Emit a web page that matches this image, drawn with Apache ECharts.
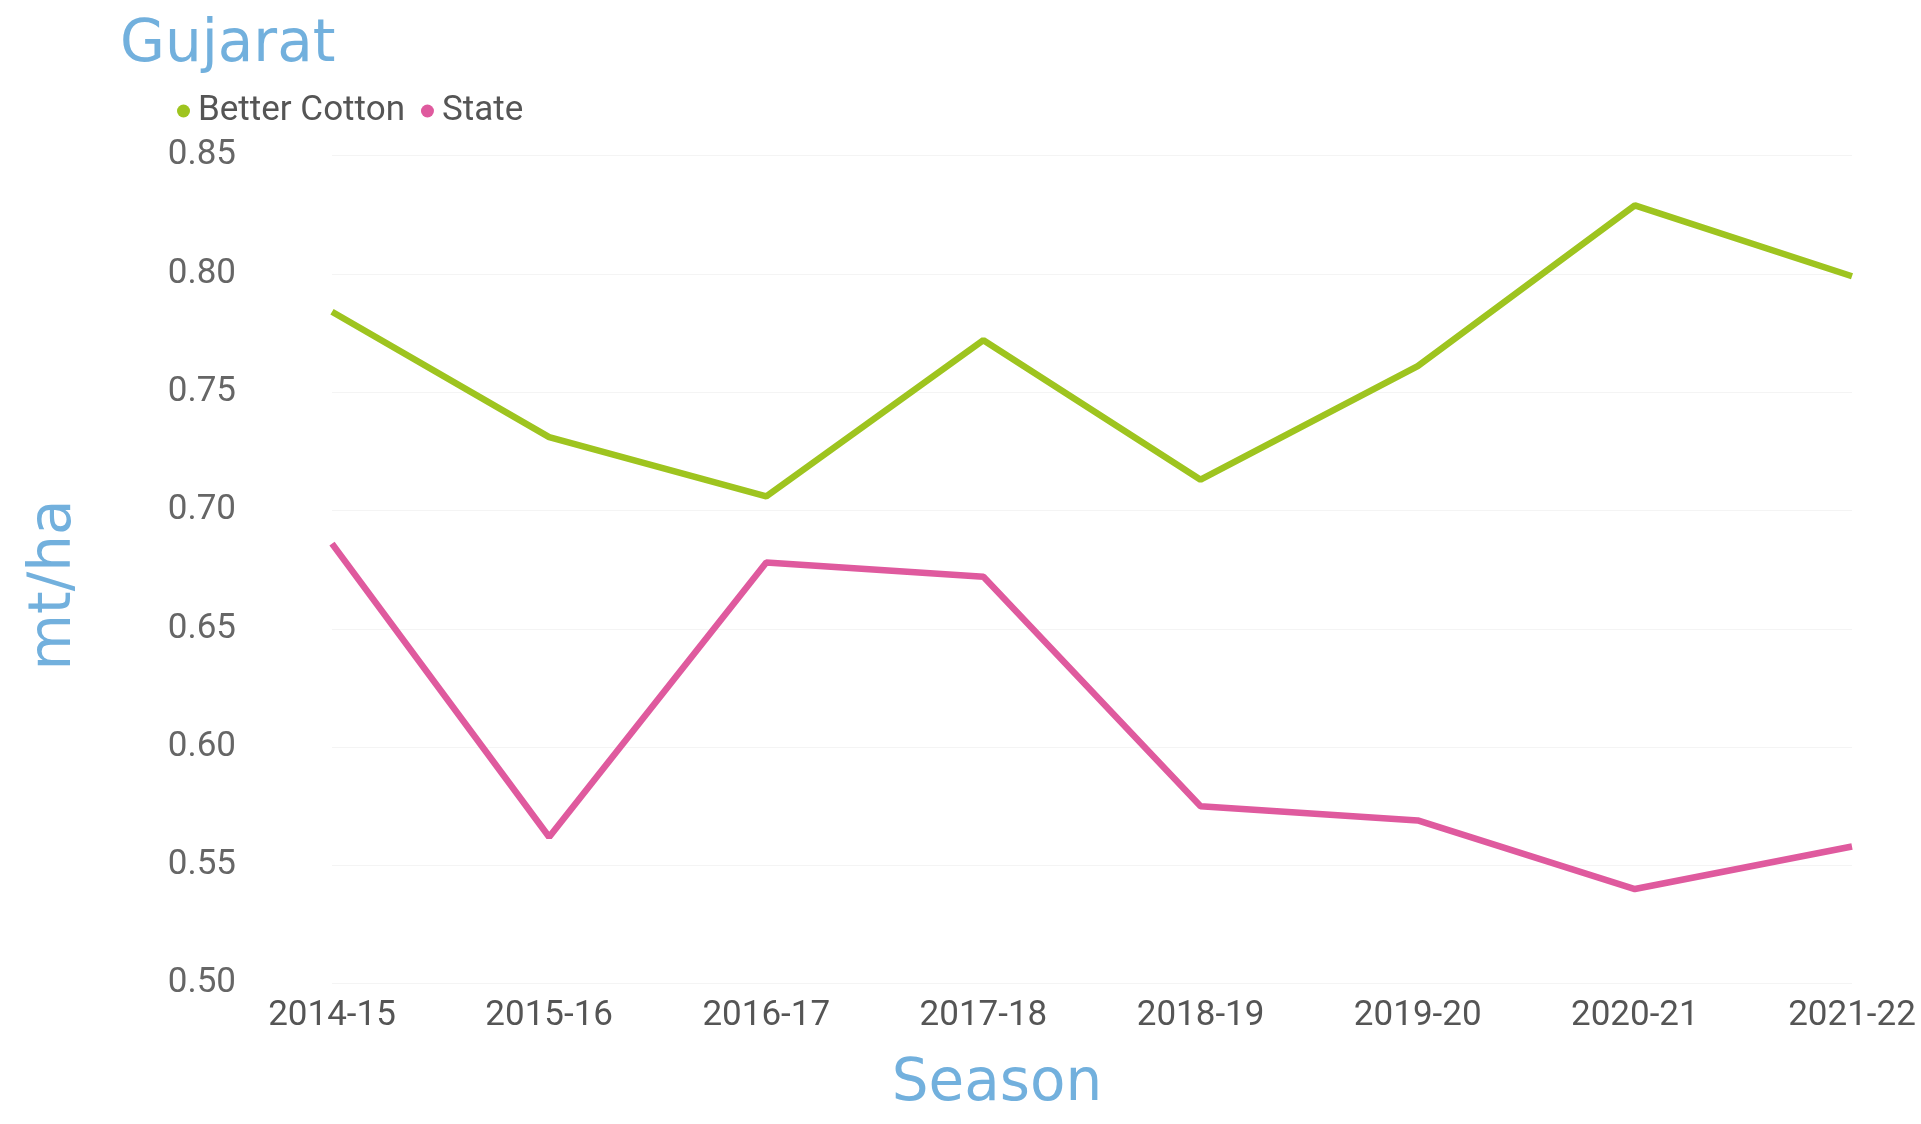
<!DOCTYPE html>
<html>
<head>
<meta charset="utf-8">
<script src="https://cdn.jsdelivr.net/npm/echarts@6/dist/echarts.min.js"></script>
<style>
  html, body { margin: 0; padding: 0; background: #fff; }
  #chart { width: 1921px; height: 1124px; }
</style>
</head>
<body>
<div id="chart"></div>
<script>
const seasons = ['2014-15', '2015-16', '2016-17', '2017-18', '2018-19', '2019-20', '2020-21', '2021-22']
const betterCotton = [0.784, 0.731, 0.706, 0.772, 0.713, 0.761, 0.829, 0.799]
const stateYield = [0.686, 0.562, 0.678, 0.672, 0.575, 0.569, 0.540, 0.558]
const yTicks = { min: 0.5, max: 0.85, step: 0.05 }

const GREEN = '#9ec41f'
const PINK = '#df5a9e'
const BLUE = '#72b0dd'
const labelFont = 'Roboto, sans-serif'
const headFont = '"DejaVu Sans", sans-serif'

const chart = echarts.init(document.getElementById('chart'), null, { renderer: 'canvas' })

chart.setOption({
  animation: false,
  backgroundColor: '#fff',
  title: {
    text: 'Gujarat',
    left: 115,
    top: 12,
    textStyle: { color: BLUE, fontFamily: headFont, fontWeight: 'normal', fontSize: 58 },
  },
  legend: {
    left: 172,
    top: 88,
    icon: 'circle',
    itemWidth: 13,
    itemHeight: 13,
    itemGap: 16,
    textStyle: { color: '#555', fontFamily: labelFont, fontSize: 35, lineHeight: 36, padding: [0, 0, 0, 3] },
    data: ['Better Cotton', 'State'],
  },
  grid: { left: 332, right: 69, top: 155.6, bottom: 140.3, containLabel: false, outerBoundsMode: 'none' },
  graphic: [
    {
      type: 'text',
      x: 997,
      y: 1085,
      style: { text: 'Season', font: '58px ' + headFont, fill: BLUE, align: 'center', verticalAlign: 'middle' },
    },
    {
      type: 'text',
      x: 55,
      y: 585,
      rotation: Math.PI / 2,
      style: { text: 'mt/ha', font: '58px ' + headFont, fill: BLUE, align: 'center', verticalAlign: 'middle' },
    },
  ],
  xAxis: {
    type: 'category',
    data: seasons,
    boundaryGap: false,
    axisLine: { show: false },
    axisTick: { show: false },
    axisLabel: { color: '#555', fontFamily: labelFont, fontSize: 35, margin: 15 },
    splitLine: { show: false },
  },
  yAxis: {
    type: 'value',
    min: yTicks.min,
    max: yTicks.max,
    interval: yTicks.step,
    axisLine: { show: false },
    axisTick: { show: false },
    axisLabel: {
      color: '#666',
      fontFamily: labelFont,
      fontSize: 35,
      margin: 96,
      formatter: (v) => v.toFixed(2),
    },
    splitLine: { lineStyle: { color: '#f4f4f4', width: 1 } },
  },
  series: [
    {
      name: 'Better Cotton',
      type: 'line',
      data: betterCotton,
      symbol: 'none',
      color: GREEN,
      lineStyle: { color: GREEN, width: 6.5 },
    },
    {
      name: 'State',
      type: 'line',
      data: stateYield,
      symbol: 'none',
      color: PINK,
      lineStyle: { color: PINK, width: 6.5 },
    },
  ],
})
</script>
</body>
</html>
